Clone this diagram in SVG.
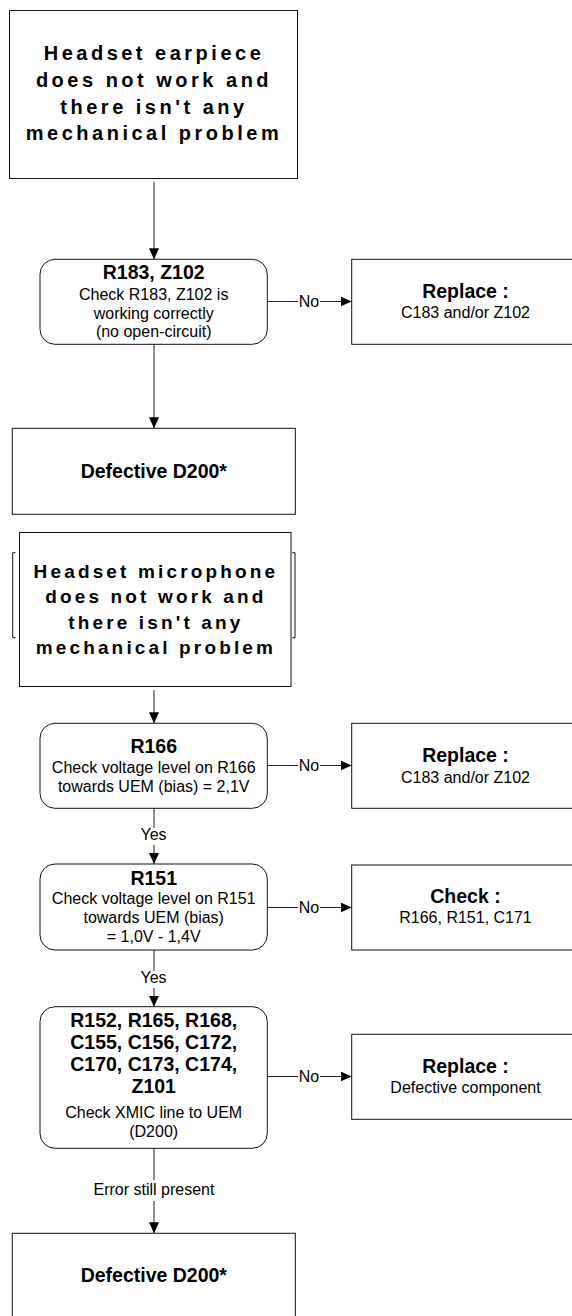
<svg xmlns="http://www.w3.org/2000/svg" width="572" height="1316" viewBox="0 0 572 1316">
  <style>
    .box { fill: #fff; stroke: #111; stroke-width: 1; }
    .wire { fill: none; stroke: #222; stroke-width: 1; }
    .tick { fill: none; stroke: #111; stroke-width: 1; }
    text { font-family: "Liberation Sans", Arial, sans-serif; text-anchor: middle; fill: #000; }
    .title { font-size: 20px; font-weight: bold; letter-spacing: 3.5px; }
    .title2 { font-size: 19px; font-weight: bold; letter-spacing: 3.15px; }
    .b { font-size: 19.5px; font-weight: bold; }
    .n { font-size: 16px; }
    .lbl { font-size: 16px; }
  </style>
  <defs>
    <marker id="arrow" markerUnits="userSpaceOnUse" markerWidth="11" markerHeight="10" refX="11" refY="5" orient="auto">
      <path d="M0,0 L11,5 L0,10 z" fill="#000"/>
    </marker>
  </defs>

  <rect width="572" height="1316" fill="#fff"/>

  <!-- connectors -->
  <g id="connectors">
    <!-- earpiece branch -->
    <path class="wire" d="M154,182 V259.3" marker-end="url(#arrow)"/>
    <path class="wire" d="M267.3,301.5 H298"/>
    <path class="wire" d="M320,301.5 H351.7" marker-end="url(#arrow)"/>
    <text class="lbl" x="309" y="307">No</text>
    <path class="wire" d="M154,344.3 V428.3" marker-end="url(#arrow)"/>

    <!-- microphone branch -->
    <path class="wire" d="M154,690 V723.3" marker-end="url(#arrow)"/>
    <path class="wire" d="M267.3,765.5 H298"/>
    <path class="wire" d="M320,765.5 H351.7" marker-end="url(#arrow)"/>
    <text class="lbl" x="309" y="771">No</text>

    <path class="wire" d="M154,808.3 V828"/>
    <path class="wire" d="M154,845 V864" marker-end="url(#arrow)"/>
    <text class="lbl" x="153.5" y="840">Yes</text>

    <path class="wire" d="M267.3,907.5 H298"/>
    <path class="wire" d="M320,907.5 H351.7" marker-end="url(#arrow)"/>
    <text class="lbl" x="309" y="913">No</text>

    <path class="wire" d="M154,950 V971"/>
    <path class="wire" d="M154,988 V1006.7" marker-end="url(#arrow)"/>
    <text class="lbl" x="153.5" y="983">Yes</text>

    <path class="wire" d="M267.3,1076.5 H298"/>
    <path class="wire" d="M320,1076.5 H351.7" marker-end="url(#arrow)"/>
    <text class="lbl" x="309" y="1082">No</text>

    <path class="wire" d="M154,1148.3 V1180"/>
    <path class="wire" d="M154,1201 V1233.3" marker-end="url(#arrow)"/>
    <text class="lbl" x="154" y="1195">Error still present</text>
  </g>

  <!-- earpiece fault start -->
  <g id="earpiece-start">
    <rect class="box" x="9.5" y="10.5" width="288" height="168"/>
    <text class="title" x="154" y="60">Headset earpiece</text>
    <text class="title" x="154" y="87">does not work and</text>
    <text class="title" x="154" y="113.5">there isn't any</text>
    <text class="title" x="154" y="140">mechanical problem</text>
  </g>

  <g id="check-r183">
    <rect class="box" x="40" y="259.3" width="227.3" height="85" rx="15" ry="15"/>
    <text class="b" x="153.7" y="279">R183, Z102</text>
    <text class="n" x="153.7" y="300">Check R183, Z102 is</text>
    <text class="n" x="153.7" y="318.5">working correctly</text>
    <text class="n" x="153.7" y="337">(no open-circuit)</text>
  </g>

  <g id="replace-c183-a">
    <rect class="box" x="351.7" y="259.3" width="230" height="85"/>
    <text class="b" x="465.5" y="298.3">Replace :</text>
    <text class="n" x="465.5" y="318.3">C183 and/or Z102</text>
  </g>

  <g id="defective-d200-a">
    <rect class="box" x="12.3" y="428.3" width="283" height="86"/>
    <text class="b" x="153.8" y="478">Defective D200*</text>
  </g>

  <!-- microphone fault start -->
  <g id="microphone-start">
    <path class="tick" d="M15.5,552.7 H12.7 V637.7 H15.5"/>
    <path class="tick" d="M292.3,552.7 H295 V637.7 H292.3"/>
    <rect class="box" x="19.5" y="532.5" width="271.5" height="154"/>
    <text class="title2" x="155.9" y="577.7">Headset microphone</text>
    <text class="title2" x="155.9" y="603.2">does not work and</text>
    <text class="title2" x="155.9" y="628.7">there isn't any</text>
    <text class="title2" x="155.9" y="654.2">mechanical problem</text>
  </g>

  <g id="check-r166">
    <rect class="box" x="40" y="723.3" width="227.3" height="85" rx="15" ry="15"/>
    <text class="b" x="153.7" y="752.7">R166</text>
    <text class="n" x="153.7" y="773.3">Check voltage level on R166</text>
    <text class="n" x="153.7" y="792.3">towards UEM (bias) = 2,1V</text>
  </g>

  <g id="replace-c183-b">
    <rect class="box" x="351.7" y="723.3" width="230" height="85"/>
    <text class="b" x="465.5" y="761.7">Replace :</text>
    <text class="n" x="465.5" y="782.7">C183 and/or Z102</text>
  </g>

  <g id="check-r151">
    <rect class="box" x="40" y="864" width="227.3" height="86" rx="15" ry="15"/>
    <text class="b" x="153.7" y="885">R151</text>
    <text class="n" x="153.7" y="904">Check voltage level on R151</text>
    <text class="n" x="153.7" y="922.7">towards UEM (bias)</text>
    <text class="n" x="153.7" y="941.7">= 1,0V - 1,4V</text>
  </g>

  <g id="check-r166-r151-c171">
    <rect class="box" x="351.7" y="865" width="230" height="85"/>
    <text class="b" x="465.5" y="903.3">Check :</text>
    <text class="n" x="465.5" y="922.7">R166, R151, C171</text>
  </g>

  <g id="check-xmic">
    <rect class="box" x="40" y="1006.7" width="227.3" height="141.6" rx="15" ry="15"/>
    <text class="b" x="153.7" y="1027.3">R152, R165, R168,</text>
    <text class="b" x="153.7" y="1049.3">C155, C156, C172,</text>
    <text class="b" x="153.7" y="1071">C170, C173, C174,</text>
    <text class="b" x="153.7" y="1092.7">Z101</text>
    <text class="n" x="153.7" y="1118.3">Check XMIC line to UEM</text>
    <text class="n" x="153.7" y="1136.8">(D200)</text>
  </g>

  <g id="replace-defective">
    <rect class="box" x="351.7" y="1034.3" width="230" height="85"/>
    <text class="b" x="465.5" y="1072.7">Replace :</text>
    <text class="n" x="465.5" y="1093.3">Defective component</text>
  </g>

  <g id="defective-d200-b">
    <rect class="box" x="12.3" y="1233.3" width="283" height="90"/>
    <text class="b" x="153.8" y="1282">Defective D200*</text>
  </g>
</svg>
